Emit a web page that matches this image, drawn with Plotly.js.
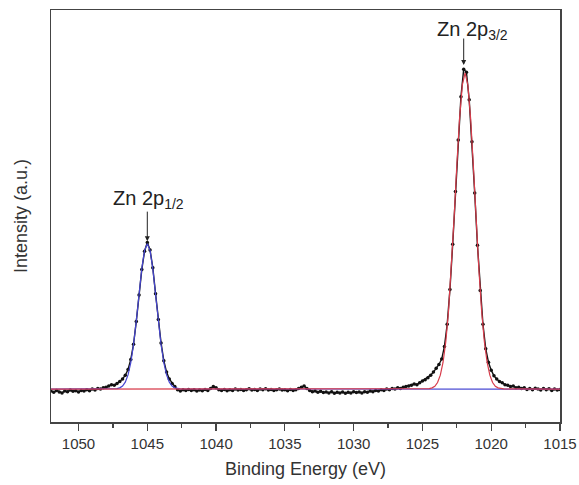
<!DOCTYPE html>
<html><head><meta charset="utf-8">
<script src="https://cdn.plot.ly/plotly-3.0.1.min.js"></script>
<style>html,body{margin:0;padding:0;background:#fff}#chart{width:579px;height:485px}</style>
</head><body><div id="chart"></div>
<script>
// Measured spectrum: binding energy grid (eV) and intensity (a.u., baseline = 0)
var dataStart = 1052.0;
var dataStep = 0.2;
var dataIntensity = [
 -0.006,-0.010,-0.004,-0.009,-0.012,-0.006,-0.008,-0.003,-0.007,-0.005,
 -0.009,-0.004,-0.006,-0.002,-0.005,0.000,-0.003,0.002,0.000,0.004,
 0.006,0.010,0.014,0.012,0.018,0.024,0.032,0.044,0.062,0.094,
 0.142,0.214,0.298,0.378,0.436,0.464,0.440,0.384,0.302,0.220,
 0.146,0.090,0.054,0.032,0.018,0.008,-0.002,-0.006,-0.002,-0.004,
 -0.001,-0.004,-0.002,-0.006,-0.003,-0.005,-0.001,-0.004,0.002,0.008,
 0.004,-0.002,-0.004,-0.001,-0.005,-0.002,-0.004,0.000,-0.003,-0.001,
 -0.004,-0.002,0.001,-0.003,-0.001,-0.004,0.000,-0.002,0.001,-0.003,
 -0.001,-0.004,-0.002,0.000,-0.003,-0.002,-0.005,-0.001,-0.004,-0.002,
 0.002,0.006,0.010,0.002,-0.004,-0.008,-0.006,-0.010,-0.007,-0.011,
 -0.009,-0.012,-0.008,-0.013,-0.010,-0.012,-0.009,-0.013,-0.010,-0.012,
 -0.008,-0.011,-0.009,-0.012,-0.008,-0.010,-0.006,-0.008,-0.004,-0.006,
 -0.002,-0.004,0.000,-0.002,0.002,0.000,0.004,0.002,0.006,0.008,
 0.010,0.012,0.016,0.014,0.020,0.026,0.030,0.036,0.044,0.054,
 0.066,0.078,0.095,0.135,0.205,0.315,0.458,0.625,0.788,0.925,
 1.012,1.002,0.915,0.782,0.620,0.455,0.312,0.205,0.128,0.085,
 0.060,0.042,0.032,0.024,0.020,0.014,0.012,0.008,0.010,0.004,
 0.006,0.002,0.004,-0.001,0.002,-0.002,0.003,0.000,-0.003,0.002,
 -0.002,0.001,-0.004,0.000,-0.003,-0.001
];
var dataEnergy = dataIntensity.map(function(_, i){ return +(dataStart - dataStep*i).toFixed(1); });

// Fitted component Zn 2p1/2 (blue)
var fit12Energy = [1052.0,1047.4,1047.2,1047.0,1046.8,1046.6,1046.4,1046.2,1046.0,1045.8,1045.6,1045.4,1045.2,1045.0,1044.8,1044.6,1044.4,1044.2,1044.0,1043.8,1043.6,1043.4,1043.2,1043.0,1042.8,1042.6,1015.0];
var fit12Intensity = [0,0.0005,0.0015,0.004,0.0099,0.022,0.045,0.084,0.141,0.216,0.300,0.381,0.439,0.460,0.439,0.381,0.300,0.216,0.141,0.084,0.045,0.022,0.0099,0.004,0.0015,0.0005,0];

// Fitted component Zn 2p3/2 (red)
var fit32Energy = [1052.0,1024.7,1024.5,1024.3,1024.1,1023.9,1023.7,1023.5,1023.3,1023.1,1022.9,1022.7,1022.5,1022.3,1022.1,1021.9,1021.7,1021.5,1021.3,1021.1,1020.9,1020.7,1020.5,1020.3,1020.1,1019.9,1019.7,1019.5,1019.3,1019.1,1015.0];
var fit32Intensity = [0,0.0005,0.0015,0.004,0.009,0.021,0.044,0.085,0.151,0.249,0.381,0.539,0.707,0.857,0.962,1.000,0.962,0.857,0.707,0.539,0.381,0.249,0.151,0.085,0.044,0.021,0.009,0.004,0.0015,0.0005,0];

var tickVals = [1050,1045,1040,1035,1030,1025,1020,1015];
var tickText = ['1050','1045','1040','1035','1030','1025','1020','1015'];

var traces = [
  {x: dataEnergy, y: dataIntensity, type:'scatter', mode:'lines+markers',
   line:{color:'#111', width:1.4}, marker:{color:'#111', size:3.5}, showlegend:false},
  {x: fit12Energy, y: fit12Intensity, type:'scatter', mode:'lines',
   line:{color:'rgb(70,70,210)', width:1.2}, showlegend:false},
  {x: fit32Energy, y: fit32Intensity, type:'scatter', mode:'lines',
   line:{color:'rgb(215,60,75)', width:1.2}, showlegend:false}
];

var fontFam = 'Liberation Sans, Arial, sans-serif';
var layout = {
  width:579, height:485,
  margin:{l:51, r:19, t:10, b:63},
  paper_bgcolor:'#fff', plot_bgcolor:'#fff',
  font:{family:fontFam, color:'#333'},
  xaxis:{range:[1052,1015], tickvals:tickVals, ticktext:tickText,
    ticks:'outside', ticklen:7, tickwidth:1.2, tickcolor:'#444',
    minor:{dtick:2.5, tick0:1015, ticks:'outside', ticklen:4, tickwidth:1.2, tickcolor:'#444'},
    showline:true, linecolor:'#444', linewidth:1.5, mirror:true,
    showgrid:false, zeroline:false,
    tickfont:{size:15, color:'#333', family:fontFam},
    title:{text:'Binding Energy (eV)', font:{size:18, color:'#333', family:fontFam}, standoff:12}},
  yaxis:{range:[-0.104,1.199], showticklabels:false, ticks:'',
    showline:true, linecolor:'#444', linewidth:1.5, mirror:true,
    showgrid:false, zeroline:false,
    title:{text:'Intensity (a.u.)', font:{size:18, color:'#333', family:fontFam}, standoff:17}},
  annotations:[
    {xref:'paper', yref:'paper', x:0.118, y:0.541, xanchor:'left', yanchor:'middle',
     text:'Zn 2p<sub>1/2</sub>', showarrow:false, font:{size:20, color:'#222', family:fontFam}},
    {xref:'x', yref:'y', x:1045.0, y:0.468, ax:0, ay:-31, text:'', showarrow:true,
     arrowhead:2, arrowsize:1, arrowwidth:1, arrowcolor:'#222'},
    {xref:'paper', yref:'paper', x:0.755, y:0.951, xanchor:'left', yanchor:'middle',
     text:'Zn 2p<sub>3/2</sub>', showarrow:false, font:{size:20, color:'#222', family:fontFam}},
    {xref:'x', yref:'y', x:1022.0, y:1.025, ax:0, ay:-28, text:'', showarrow:true,
     arrowhead:2, arrowsize:1, arrowwidth:1, arrowcolor:'#222'}
  ]
};
Plotly.newPlot('chart', traces, layout, {staticPlot:true, displayModeBar:false});
</script>
</body></html>
